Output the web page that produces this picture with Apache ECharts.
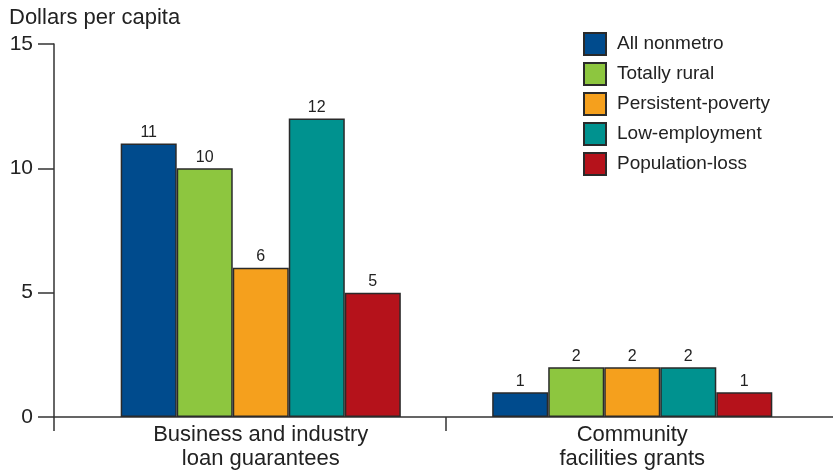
<!DOCTYPE html>
<html><head><meta charset="utf-8">
<script src="https://cdn.jsdelivr.net/npm/echarts@6/dist/echarts.min.js"></script>
<style>html,body{margin:0;padding:0;background:#fff}#c{width:833px;height:471px}</style>
</head><body><div id="c"></div>
<script>
const categories = ['Business and industry\nloan guarantees', 'Community\nfacilities grants'];
const seriesNames = ['All nonmetro', 'Totally rural', 'Persistent-poverty', 'Low-employment', 'Population-loss'];
const allNonmetro = [11, 1];
const totallyRural = [10, 2];
const persistentPoverty = [6, 2];
const lowEmployment = [12, 2];
const populationLoss = [5, 1];
const yMin = 0, yMax = 15, yStep = 5;
const yTitle = 'Dollars per capita';

const values = [allNonmetro, totallyRural, persistentPoverty, lowEmployment, populationLoss];
const colors = ['#004b8d', '#8dc63f', '#f5a01d', '#00928f', '#b5121b'];
const FONT = '"Liberation Sans", Arial, Helvetica, sans-serif';
const TXT = '#222';
const AX = '#333';

const chart = echarts.init(document.getElementById('c'), null, {renderer: 'canvas'});
chart.setOption({
  animation: false,
  backgroundColor: '#fff',
  textStyle: {fontFamily: FONT},
  title: {
    text: yTitle, left: 9, top: 7, padding: 0,
    textStyle: {fontFamily: FONT, fontSize: 22, fontWeight: 'normal', color: TXT}
  },
  legend: {
    orient: 'vertical', left: 583, top: 32, padding: 0,
    itemWidth: 22, itemHeight: 22, itemGap: 6, icon: 'rect',
    data: seriesNames,
    textStyle: {fontFamily: FONT, fontSize: 19, lineHeight: 22, color: TXT, padding: [0, 0, 0, 6]}
  },
  grid: [
    {left: 75, right: 15, top: 44, bottom: 54, outerBoundsMode: 'none', containLabel: false},
    {left: 54, width: 784, top: 44, bottom: 54, outerBoundsMode: 'none', containLabel: false}
  ],
  xAxis: [
    {
      type: 'category', gridIndex: 0, data: categories,
      axisLine: {show: false}, axisTick: {show: false},
      axisLabel: {fontFamily: FONT, fontSize: 22, lineHeight: 24, color: TXT, margin: 6}
    },
    {
      type: 'category', gridIndex: 1, data: categories.map(() => ''), boundaryGap: true,
      axisLine: {show: true, lineStyle: {color: AX, width: 1.5}},
      axisTick: {show: true, length: 14, lineStyle: {color: AX, width: 1.5}},
      axisLabel: {show: false}
    }
  ],
  yAxis: [
    {type: 'value', gridIndex: 0, min: yMin, max: yMax, interval: yStep, show: false},
    {
      type: 'value', gridIndex: 1, min: yMin, max: yMax, interval: yStep,
      axisLine: {show: true, lineStyle: {color: AX, width: 1.5}},
      axisTick: {show: true, length: 16, lineStyle: {color: AX, width: 1.5}},
      axisLabel: {fontFamily: FONT, fontSize: 21, color: TXT, margin: 21},
      splitLine: {show: false}
    }
  ],
  series: seriesNames.map((name, i) => ({
    name: name, type: 'bar', xAxisIndex: 0, yAxisIndex: 0,
    data: values[i],
    barGap: '0%', barCategoryGap: '24.6%',
    itemStyle: {color: colors[i], borderColor: '#2a2a2a', borderWidth: 1.5},
    label: {show: true, position: 'top', distance: 3, fontFamily: FONT, fontSize: 16, color: TXT}
  }))
});
</script></body></html>
